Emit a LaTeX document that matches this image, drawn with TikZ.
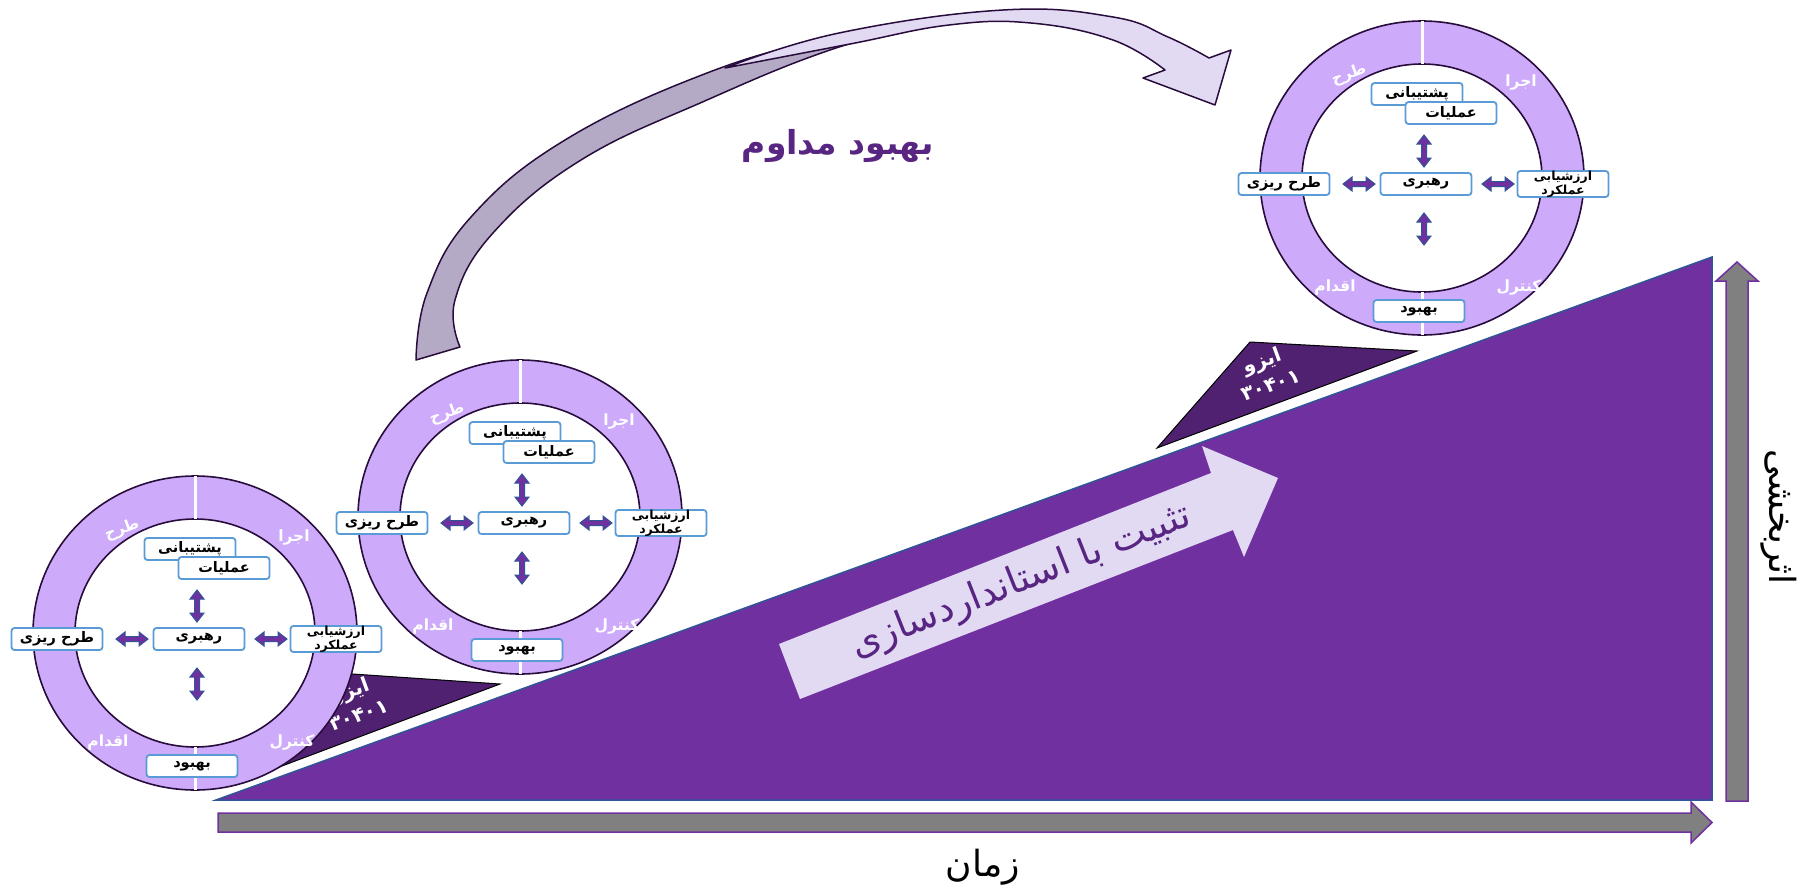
\documentclass[tikz,border=0pt]{standalone}
\usepackage{fontspec}
\newfontfamily\arabicfont[Script=Arabic]{DejaVu Sans}
\TeXXeTstate=1
\newcommand{\fatext}[1]{{\arabicfont\beginR #1\endR}}
\definecolor{mainpurple}{RGB}{112,48,160}
\definecolor{edgeblue}{RGB}{47,85,151}
\definecolor{isodark}{RGB}{80,33,112}
\definecolor{ringfill}{RGB}{205,170,250}
\definecolor{ringline}{RGB}{40,12,60}
\definecolor{boxblue}{RGB}{91,155,213}
\definecolor{ribbondark}{RGB}{181,170,198}
\definecolor{ribbonlight}{RGB}{226,217,243}
\definecolor{titlepurple}{RGB}{88,38,130}
\definecolor{axisgray}{RGB}{128,128,128}

\begin{document}
\begin{tikzpicture}[x=1pt,y=-1pt]
  \tikzstyle{unit}=[rectangle, rounded corners=3, draw=boxblue, line width=1.8, fill=white, minimum width=91, minimum height=22, inner sep=0, font=\arabicfont\bfseries\fontsize{14.5}{15}\selectfont]
  \tikzstyle{phase}=[text=white, inner sep=0, font=\arabicfont\bfseries\fontsize{15.5}{16}\selectfont]
  \tikzstyle{isotext}=[text=white, align=center, inner sep=0, rotate=20, font=\arabicfont\bfseries\fontsize{20}{26}\selectfont]
  \tikzstyle{axislabel}=[inner sep=0, font=\arabicfont\fontsize{36}{38}\selectfont]
  \tikzstyle{axis}=[fill=axisgray, draw=mainpurple, line width=1.5]
  \tikzset{pics/dblarrow/.style={code={
    \filldraw[fill=mainpurple, draw=edgeblue, line width=1] (-16,0) -- (-7,-7) -- (-7,-2.5) -- (7,-2.5) -- (7,-7) -- (16,0) -- (7,7) -- (7,2.5) -- (-7,2.5) -- (-7,7) -- cycle;}}}
  \useasboundingbox (0,0) rectangle (1800,887);

  % axes
  \filldraw[axis] (218,813) -- (1691,813) -- (1691,802) -- (1712,822.5) -- (1691,843) -- (1691,832) -- (218,832) -- cycle;
  \filldraw[axis] (1726,801) -- (1726,281) -- (1716,281) -- (1737,262) -- (1758,281) -- (1748,281) -- (1748,801) -- cycle;

  % iso 30401 wedges
  \filldraw[fill=isodark, draw=black, line width=1] (242,781) -- (338,673) -- (500,684) -- cycle;
  \filldraw[fill=isodark, draw=black, line width=1] (1157,448) -- (1250,342) -- (1417,351) -- cycle;

  % main wedge
  \filldraw[fill=mainpurple, draw=edgeblue, line width=1.5] (216,800) -- (1712,257) -- (1712,800) -- cycle;

  \node[isotext] (iso1) at (354,702) {\fatext{ایزو}\\۳۰۴۰۱};
  \node[isotext] (iso2) at (1266,372) {\fatext{ایزو}\\۳۰۴۰۱};

  % standardisation arrow
  \fill[ribbonlight] (800,699) -- (779,644) -- (1211,473) -- (1202,446) -- (1278,478) -- (1244,557) -- (1233,530) -- cycle;
  \node[text=titlepurple, inner sep=0, rotate=21.5, font=\arabicfont\fontsize{38}{40}\selectfont] (std) at (1021,582) {\fatext{تثبیت با استانداردسازی}};

  % continual improvement ribbon
  \filldraw[fill=ribbondark, draw=ringline, line width=1.5, line join=round]
    plot[smooth, tension=0.7] coordinates {(416,360) (427,293) (471,217) (565,140) (707,73) (830,38) (935,22)}
    -- plot[smooth, tension=0.7] coordinates {(935,22) (830,50) (707,100) (581,160) (493,233) (455,300) (460,347)}
    -- cycle;
  \filldraw[fill=ribbonlight, draw=ringline, line width=1.5, line join=round]
    plot[smooth, tension=0.7] coordinates {(725,68) (839,33) (1003,10) (1113,17) (1168,37) (1209,58)}
    -- (1231,50) -- (1215,105) -- (1143,78) -- (1165,70)
    -- plot[smooth, tension=0.7] coordinates {(1165,70) (1113,40) (1031,23) (949,25) (850,44) (725,68)}
    -- cycle;
  \node[text=titlepurple, inner sep=0, font=\arabicfont\bfseries\fontsize{33}{35}\selectfont] (cont) at (838,146) {\fatext{بهبود مداوم}};

  % pdca rings
  \foreach \cx/\cy/\k in {195/633/a, 520/517/b, 1422/178/c} {
    \fill[white] (\cx,\cy) ellipse [x radius=120, y radius=114];
    \filldraw[fill=ringfill, draw=ringline, line width=1.6, even odd rule] (\cx,\cy) ellipse [x radius=162, y radius=157] (\cx,\cy) ellipse [x radius=120, y radius=114];
    \draw[white, line width=3] (\cx,\cy-157) -- (\cx,\cy-114);
    \draw[white, line width=3] (\cx,\cy+114) -- (\cx,\cy+157);
    \node[phase, rotate=20] (plan\k) at (\cx-73,\cy-103) {\fatext{طرح}};
    \node[phase] (do\k) at (\cx+99,\cy-96) {\fatext{اجرا}};
    \node[phase] (act\k) at (\cx-87,\cy+109) {\fatext{اقدام}};
    \node[phase] (check\k) at (\cx+97,\cy+109) {\fatext{کنترل}};
    \node[unit] (support\k) at (\cx-5,\cy-84) {\fatext{پشتیبانی}};
    \node[unit] (ops\k) at (\cx+29,\cy-65) {\fatext{عملیات}};
    \node[unit] (planning\k) at (\cx-138,\cy+6) {\fatext{طرح ریزی}};
    \node[unit] (lead\k) at (\cx+4,\cy+6) {\fatext{رهبری}};
    \node[unit, align=center, font=\arabicfont\bfseries\fontsize{12.5}{12}\selectfont] (eval\k) at (\cx+141,\cy+6) {\fatext{ارزشیابی}\\\fatext{عملکرد}};
    \node[unit] (improve\k) at (\cx-3,\cy+133) {\fatext{بهبود}};
    \pic at (\cx-63,\cy+6) {dblarrow};
    \pic at (\cx+76,\cy+6) {dblarrow};
    \pic[rotate=90] at (\cx+2,\cy-27) {dblarrow};
    \pic[rotate=90] at (\cx+2,\cy+51) {dblarrow};
  }

  % axis labels
  \node[axislabel] (time) at (983,867) {\fatext{زمان}};
  \node[axislabel, rotate=-90] (effect) at (1779,517) {\fatext{اثربخشی}};
\end{tikzpicture}
\end{document}
